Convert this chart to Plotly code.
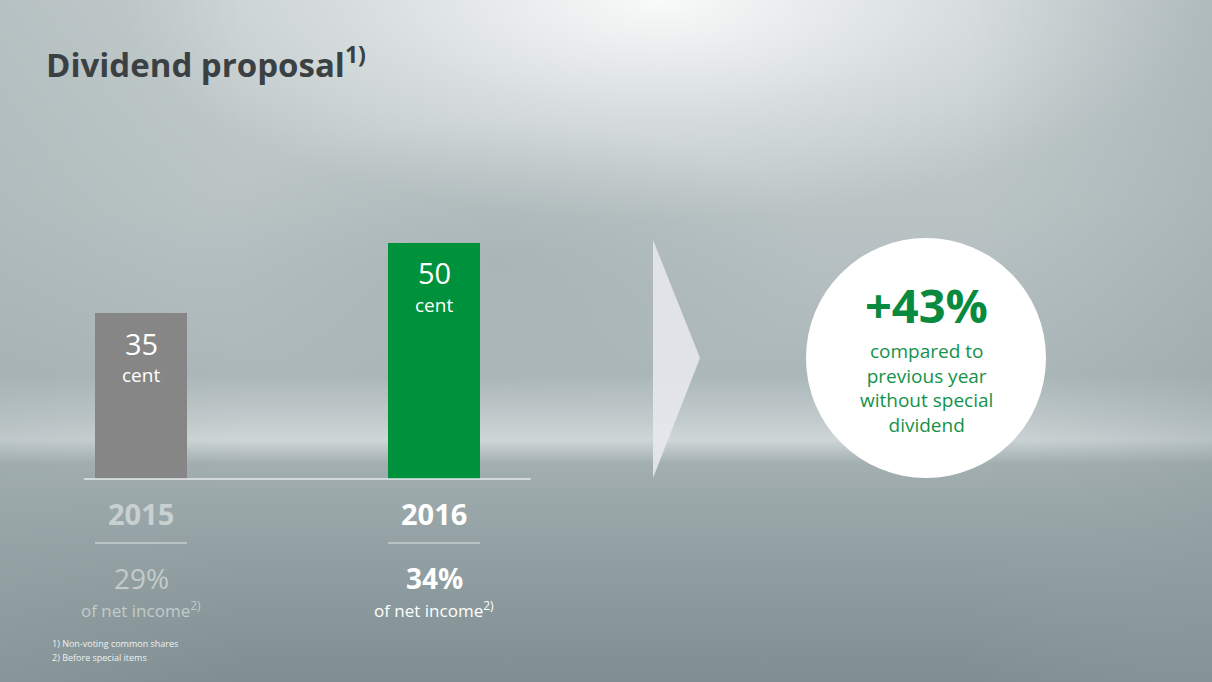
import base64
import plotly.graph_objects as go

# ---- data ----
years = ["2015", "2016"]
dividend_cent = [35, 50]
payout_pct = ["29%", "34%"]
bar_colors = ["#878687", "#00913c"]
growth_label = "+43%"
growth_text = ["compared to", "previous year", "without special", "dividend"]
footnotes = ["1) Non-voting common shares", "2) Before special items"]

W, H = 1212, 682
xpos = list(range(len(years)))

# axis calibration (pixel layout of the slide)
px_per_x = 293.0
x0 = -141.0 / px_per_x
xr = [x0, x0 + W / px_per_x]
px_per_y = 4.73
base_from_bottom = H - 479
y0 = -base_from_bottom / px_per_y
yr = [y0, y0 + H / px_per_y]
bar_w = 92 / px_per_x


def py(p):  # pixel-from-top -> paper y
    return 1 - p / H


def pxx(p):
    return p / W


# ---- background (svg gradients) ----
svg = f"""<svg xmlns='http://www.w3.org/2000/svg' width='{W}' height='{H}' viewBox='0 0 {W} {H}' preserveAspectRatio='none'>
<defs>
<linearGradient id='v' x1='0' y1='0' x2='0' y2='1'>
<stop offset='0' stop-color='#c3cccd'/>
<stop offset='0.30' stop-color='#bac4c5'/>
<stop offset='0.55' stop-color='#acb7b9'/>
<stop offset='0.615' stop-color='#c2cbcc'/>
<stop offset='0.645' stop-color='#ced6d7'/>
<stop offset='0.68' stop-color='#a2aeb0'/>
<stop offset='0.80' stop-color='#93a1a4'/>
<stop offset='1' stop-color='#7f8e91'/>
</linearGradient>
<radialGradient id='g' cx='0.5' cy='0.5' r='0.5'>
<stop offset='0' stop-color='#ffffff' stop-opacity='0.9'/>
<stop offset='0.5' stop-color='#ffffff' stop-opacity='0.4'/>
<stop offset='1' stop-color='#ffffff' stop-opacity='0'/>
</radialGradient>
<radialGradient id='d' cx='0.5' cy='0.5' r='0.5'>
<stop offset='0' stop-color='#8a999c' stop-opacity='0.28'/>
<stop offset='1' stop-color='#8a999c' stop-opacity='0'/>
</radialGradient>
<linearGradient id='l' x1='0' y1='0' x2='1' y2='0'>
<stop offset='0' stop-color='#9aa8aa' stop-opacity='0.3'/>
<stop offset='0.2' stop-color='#9aa8aa' stop-opacity='0'/>
<stop offset='0.8' stop-color='#9aa8aa' stop-opacity='0'/>
<stop offset='1' stop-color='#8e9c9f' stop-opacity='0.35'/>
</linearGradient>
</defs>
<rect width='{W}' height='{H}' fill='url(#v)'/>
<ellipse cx='660' cy='0' rx='540' ry='220' fill='url(#g)'/>
<ellipse cx='500' cy='260' rx='320' ry='140' fill='url(#d)'/>
<rect width='{W}' height='{H}' fill='url(#l)'/>
</svg>"""
bg_src = "data:image/svg+xml;base64," + base64.b64encode(svg.encode()).decode()

fig = go.Figure()
fig.add_trace(go.Bar(
    x=xpos, y=dividend_cent, width=bar_w,
    marker=dict(color=bar_colors, line=dict(width=0)),
    hoverinfo="skip", showlegend=False,
))

annotations = []
shapes = []

# title
annotations.append(dict(
    x=pxx(44), y=py(62), xref="paper", yref="paper", xanchor="left", yanchor="middle",
    text="<b>Dividend proposal<sup>1)</sup></b>", showarrow=False,
    font=dict(family="Open Sans", size=33, color="#3b4142"),
))

# bar labels
for i, v in enumerate(dividend_cent):
    annotations.append(dict(
        x=xpos[i], y=v, xref="x", yref="y", xanchor="center", yanchor="middle",
        yshift=-30, text=str(v), showarrow=False,
        font=dict(family="Open Sans", size=29, color="white"),
    ))
    annotations.append(dict(
        x=xpos[i], y=v, xref="x", yref="y", xanchor="center", yanchor="middle",
        yshift=-62, text="cent", showarrow=False,
        font=dict(family="Open Sans", size=19, color="white"),
    ))

# baseline
shapes.append(dict(type="line", xref="x", yref="y", x0=-0.195, x1=1.33, y0=0, y1=0,
                   line=dict(color="#e4eaea", width=1.5)))

# year labels, separators, payout ratios
year_col = ["#c9d0d0", "#ffffff"]
pct_col = ["#c3cbcb", "#ffffff"]
for i, yname in enumerate(years):
    bold = i == len(years) - 1
    annotations.append(dict(
        x=xpos[i], y=py(513), xref="x", yref="paper", xanchor="center", yanchor="middle",
        text=f"<b>{yname}</b>", showarrow=False,
        font=dict(family="Open Sans", size=29, color=year_col[i]),
    ))
    shapes.append(dict(type="line", xref="x", yref="paper",
                       x0=xpos[i] - bar_w / 2, x1=xpos[i] + bar_w / 2,
                       y0=py(543), y1=py(543),
                       line=dict(color="#dfe5e5", width=1.2)))
    ptxt = f"<b>{payout_pct[i]}</b>" if bold else payout_pct[i]
    annotations.append(dict(
        x=xpos[i], y=py(578), xref="x", yref="paper", xanchor="center", yanchor="middle",
        text=ptxt, showarrow=False,
        font=dict(family="Open Sans", size=28, color=pct_col[i]),
    ))
    annotations.append(dict(
        x=xpos[i], y=py(609), xref="x", yref="paper", xanchor="center", yanchor="middle",
        text="of net income<sup>2)</sup>", showarrow=False,
        font=dict(family="Open Sans", size=17, color=pct_col[i]),
    ))

# footnotes
for k, ft in enumerate(footnotes):
    annotations.append(dict(
        x=pxx(50), y=py(643 + 14 * k), xref="paper", yref="paper",
        xanchor="left", yanchor="middle", text=ft, showarrow=False,
        font=dict(family="Open Sans", size=9, color="#eef2f2"),
    ))

# arrow triangle
shapes.append(dict(type="path", xref="paper", yref="paper",
                   path=f"M {pxx(653)} {py(240)} L {pxx(700)} {py(358)} L {pxx(653)} {py(478)} Z",
                   fillcolor="rgba(232,232,238,0.9)", line=dict(width=0)))

# circle
cx, cy, r = 926, 358, 120
shapes.append(dict(type="circle", xref="paper", yref="paper",
                   x0=pxx(cx - r), x1=pxx(cx + r), y0=py(cy + r), y1=py(cy - r),
                   fillcolor="white", line=dict(width=0)))
annotations.append(dict(
    x=pxx(cx), y=py(305), xref="paper", yref="paper", xanchor="center", yanchor="middle",
    text=f"<b>{growth_label}</b>", showarrow=False, borderpad=0,
    font=dict(family="Open Sans", size=47, color="#0a8a3e"),
))
annotations.append(dict(
    x=pxx(cx), y=py(388), xref="paper", yref="paper",
    xanchor="center", yanchor="middle", align="center", borderpad=0,
    text="<br>".join(growth_text), showarrow=False,
    font=dict(family="Open Sans", size=19, color="#14924a"),
))

fig.update_layout(
    width=W, height=H,
    margin=dict(l=0, r=0, t=0, b=0),
    paper_bgcolor="#aab5b7", plot_bgcolor="rgba(0,0,0,0)",
    xaxis=dict(range=xr, visible=False, fixedrange=True),
    yaxis=dict(range=yr, visible=False, fixedrange=True),
    images=[dict(source=bg_src, xref="paper", yref="paper", x=0, y=1, sizex=1, sizey=1,
                 xanchor="left", yanchor="top", sizing="stretch", layer="below")],
    shapes=shapes, annotations=annotations,
    bargap=0, showlegend=False,
)

fig.write_html("out.html", config={"displayModeBar": False},
               post_script="document.body.style.margin='0';document.body.style.overflow='hidden';")
